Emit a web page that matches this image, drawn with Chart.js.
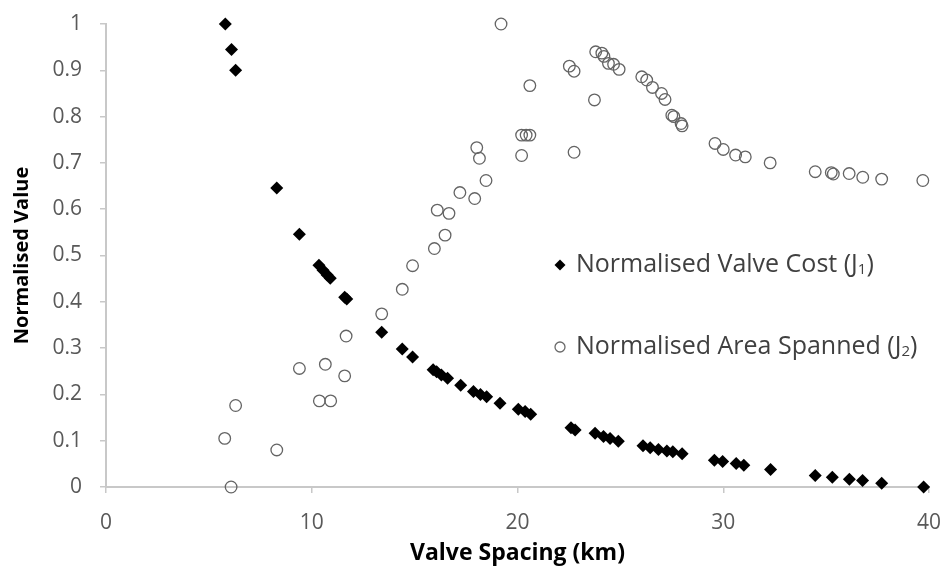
<!DOCTYPE html>
<html lang="en">
<head>
    <meta charset="UTF-8">
    <title>Valve spacing</title>
    <script src="https://cdn.jsdelivr.net/npm/chart.js"></script>
    <style>
        body { margin: 0; background: #fff; }
        #wrap { width: 946px; height: 567px; }
    </style>
</head>
<body>
    <div id="wrap"><canvas id="myChart"></canvas></div>

    <script>
        // valve cost J1 vs spacing
        const costSpacing = [5.8, 6.1, 6.3, 8.3, 9.4, 10.35, 10.55, 10.75, 10.9, 11.6, 11.7, 13.4, 14.4, 14.9,
            15.9, 16.07, 16.3, 16.6, 17.24, 17.86, 18.2, 18.5, 19.15, 20.04, 20.37, 20.64, 22.6, 22.8,
            23.77, 24.18, 24.5, 24.9, 26.1, 26.45, 26.85, 27.26, 27.55, 28.0, 29.57, 29.97, 30.63, 31.0,
            32.3, 34.47, 35.3, 36.13, 36.77, 37.7, 39.74];
        const costValues = [1.0, 0.945, 0.90, 0.646, 0.546, 0.479, 0.468, 0.458, 0.451, 0.41, 0.406, 0.334, 0.298, 0.281,
            0.253, 0.249, 0.242, 0.235, 0.22, 0.206, 0.2, 0.195, 0.181, 0.168, 0.163, 0.157, 0.128, 0.123,
            0.116, 0.109, 0.105, 0.099, 0.089, 0.085, 0.081, 0.078, 0.076, 0.072, 0.058, 0.055, 0.051, 0.047,
            0.038, 0.025, 0.021, 0.017, 0.014, 0.008, 0.0];

        // area spanned J2 vs spacing
        const areaSpacing = [5.77, 6.08, 6.3, 8.3, 9.4, 10.37, 10.66, 10.92, 11.6, 11.67, 13.4, 14.4, 14.9,
            15.96, 16.1, 16.48, 16.67, 17.2, 17.92, 18.02, 18.15, 18.47, 19.2, 20.2, 20.2, 20.42, 20.6, 20.6,
            22.52, 22.75, 22.75, 23.74, 23.8, 24.1, 24.2, 24.42, 24.67, 24.94, 26.04, 26.28, 26.56, 27.0, 27.17,
            27.5, 27.6, 27.95, 28.0, 29.6, 30.0, 30.6, 31.07, 32.28, 34.47, 35.25, 35.35, 36.12, 36.78, 37.7, 39.7];
        const areaValues = [0.105, 0.0, 0.176, 0.08, 0.256, 0.186, 0.265, 0.186, 0.24, 0.326, 0.374, 0.427, 0.478,
            0.515, 0.598, 0.544, 0.591, 0.636, 0.623, 0.733, 0.71, 0.662, 1.0, 0.76, 0.716, 0.76, 0.76, 0.867,
            0.909, 0.898, 0.723, 0.836, 0.94, 0.937, 0.93, 0.915, 0.913, 0.902, 0.886, 0.879, 0.863, 0.85, 0.837,
            0.803, 0.80, 0.785, 0.78, 0.742, 0.729, 0.717, 0.713, 0.70, 0.681, 0.679, 0.676, 0.677, 0.669, 0.665, 0.662];

        const seriesNames = ['Normalised Valve Cost (J', 'Normalised Area Spanned (J'];
        const seriesSubs = ['1', '2'];

        const xTitle = 'Valve Spacing (km)';
        const yTitle = 'Normalised Value';

        const toPoints = (xs, ys) => xs.map((x, i) => ({ x: x, y: ys[i] }));

        const FONT = "'Open Sans', sans-serif";
        const AXIS = '#c8c8c8';

        // legend sits inside the plot, drawn by hand
        const innerLegend = {
            id: 'innerLegend',
            afterDatasetsDraw(chart) {
                const ctx = chart.ctx;
                const rows = [{ y: 265, kind: 'diamond' }, { y: 347, kind: 'circle' }];
                ctx.save();
                rows.forEach((row, i) => {
                    const mx = 560;
                    ctx.beginPath();
                    if (row.kind === 'diamond') {
                        ctx.moveTo(mx, row.y - 5.5);
                        ctx.lineTo(mx + 5.5, row.y);
                        ctx.lineTo(mx, row.y + 5.5);
                        ctx.lineTo(mx - 5.5, row.y);
                        ctx.closePath();
                        ctx.fillStyle = '#000';
                        ctx.fill();
                    } else {
                        ctx.arc(mx, row.y, 5, 0, Math.PI * 2);
                        ctx.strokeStyle = '#6a6a6a';
                        ctx.lineWidth = 1.3;
                        ctx.stroke();
                    }
                    ctx.fillStyle = '#404040';
                    ctx.textBaseline = 'middle';
                    ctx.textAlign = 'left';
                    ctx.font = '25px ' + FONT;
                    const tx = 576;
                    ctx.fillText(seriesNames[i], tx, row.y);
                    let w = ctx.measureText(seriesNames[i]).width;
                    ctx.font = '15px ' + FONT;
                    ctx.fillText(seriesSubs[i], tx + w, row.y + 5);
                    w += ctx.measureText(seriesSubs[i]).width;
                    ctx.font = '25px ' + FONT;
                    ctx.fillText(')', tx + w, row.y);
                });
                ctx.restore();
            }
        };

        const chart = new Chart('myChart', {
            type: 'scatter',
            data: {
                datasets: [{
                    label: seriesNames[0] + seriesSubs[0] + ')',
                    data: toPoints(costSpacing, costValues),
                    pointStyle: 'rectRot',
                    pointRadius: 6.5,
                    backgroundColor: '#000',
                    borderColor: '#000',
                    borderWidth: 0,
                    clip: false
                }, {
                    label: seriesNames[1] + seriesSubs[1] + ')',
                    data: toPoints(areaSpacing, areaValues),
                    pointStyle: 'circle',
                    pointRadius: 5.8,
                    backgroundColor: 'rgba(0,0,0,0)',
                    borderColor: '#646464',
                    borderWidth: 1.3,
                    clip: false
                }]
            },
            options: {
                responsive: true,
                maintainAspectRatio: false,
                animation: false,
                events: [],
                layout: { padding: { top: 24, right: 17, left: 0, bottom: 0 } },
                plugins: {
                    legend: { display: false },
                    tooltip: { enabled: false }
                },
                scales: {
                    x: {
                        type: 'linear',
                        min: 0,
                        max: 40,
                        // fixed band height, no extra room for the end labels
                        afterFit: s => { s.height = 80; s.paddingLeft = 0; s.paddingRight = 0; },
                        ticks: { stepSize: 10, color: '#595959', padding: 17, font: { family: FONT, size: 21 } },
                        grid: { drawOnChartArea: false, color: AXIS, tickLength: 6, lineWidth: 1.5 },
                        border: { color: AXIS, width: 2 },
                        title: { display: true, text: xTitle, color: '#000', padding: { top: 0, bottom: 0 },
                            font: { family: FONT, size: 23, weight: 'bold' } }
                    },
                    y: {
                        min: 0,
                        max: 1,
                        afterFit: s => { s.width = 106; s.paddingTop = 0; s.paddingBottom = 0; },
                        ticks: {
                            stepSize: 0.1, color: '#595959', padding: 18, font: { family: FONT, size: 21 },
                            callback: v => String(Math.round(v * 10) / 10)
                        },
                        grid: { drawOnChartArea: false, color: AXIS, tickLength: 6, lineWidth: 1.5 },
                        border: { color: AXIS, width: 2 },
                        title: { display: true, text: yTitle, color: '#000', padding: { top: 10, bottom: 0 },
                            font: { family: FONT, size: 20, weight: 'bold' } }
                    }
                }
            },
            plugins: [innerLegend]
        });
    </script>
</body>
</html>
